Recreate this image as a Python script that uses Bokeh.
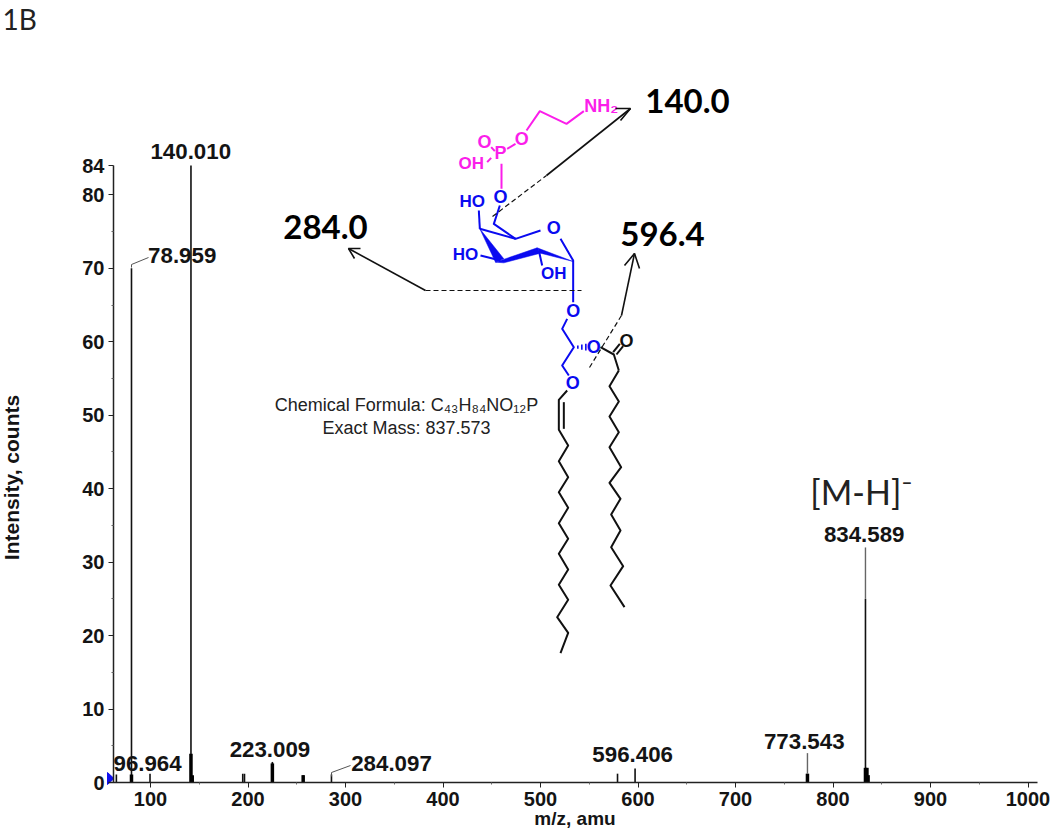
import math
from bokeh.plotting import figure
from bokeh.embed import file_html
from bokeh.resources import INLINE
from bokeh.models import FixedTicker
from bokeh.core.properties import value

# ---- chart data (m/z, intensity) ----
peak_mz = [65, 80.5, 99.5, 141.5, 194.6, 196.4, 225, 256.6, 285.6, 579, 597, 773.8, 833.3]
peak_int = [1.1, 70, 1.2, 84, 1.2, 1.2, 2.8, 1.0, 1.1, 1.2, 1.9, 1.2, 25]
thick_mz = [80.5, 141.5, 142.8, 225, 256.6, 773.8, 833.3, 834.8, 836]
thick_int = [1.1, 3.9, 1.0, 2.6, 1.0, 1.2, 2.0, 2.0, 1.0]
stem_mz = [833.3, 773.8]
stem_low = [25, 1.2]
stem_high = [32, 4.0]
peak_labels = ["140.010", "78.959", "96.964", "223.009", "284.097", "596.406", "773.543", "834.589"]
label_mz = [141.3, 132.5, 97, 222.5, 347.2, 594.5, 770.5, 832]
label_int = [85.9, 71.7, 2.6, 4.5, 2.6, 3.8, 5.6, 33.8]
x_ticks = [100, 200, 300, 400, 500, 600, 700, 800, 900, 1000]
x_minor = [150, 250, 350, 450, 550, 650, 750, 850, 950]
y_ticks = [0, 10, 20, 30, 40, 50, 60, 70, 80, 84]
y_minor = [5, 15, 25, 35, 45, 55, 65, 75]

# ---- axis calibration ----
PX_PER_MZ = 0.975
PX_PER_INT = 7.345
AXIS_L, FRAME_R, BASE = 113, 1037, 782
W, H = 1050, 829


def X(px):
    return 100 + (px - 150) / PX_PER_MZ


def Y(py):
    return (BASE - py) / PX_PER_INT


def z1(pts):
    return [440 + a / 3 for a, b in pts], [80 + b / 3 for a, b in pts]


def z2(pts):
    return [500 + a / 3 for a, b in pts], [340 + b / 3 for a, b in pts]


p = figure(width=W, height=H, output_backend="svg", toolbar_location=None,
           x_range=(X(0), X(W)), y_range=(Y(H), Y(0)),
           min_border_left=0, min_border_right=0, min_border_top=0, min_border_bottom=0,
           outline_line_color=None, background_fill_color="white",
           styles={"position": "absolute", "left": "0px", "top": "0px"})
p.grid.visible = False

for ax in (p.xaxis[0], p.yaxis[0]):
    ax.major_label_text_font = "Liberation Sans"
    ax.major_label_text_font_style = "bold"
    ax.major_label_text_font_size = "20px"
    ax.major_label_text_color = "#141414"
    ax.axis_line_color = "#222222"
    ax.axis_line_width = 1.5
    ax.major_tick_line_color = "#222222"
    ax.minor_tick_line_color = "#666666"
    ax.major_tick_in = 0
    ax.major_tick_out = 5
    ax.minor_tick_in = 0
    ax.minor_tick_out = 2

p.xaxis[0].ticker = FixedTicker(ticks=x_ticks, minor_ticks=x_minor)
p.yaxis[0].ticker = FixedTicker(ticks=y_ticks, minor_ticks=y_minor)
p.xaxis[0].fixed_location = 0
p.yaxis[0].fixed_location = X(AXIS_L)
p.xaxis[0].bounds = (X(108), X(FRAME_R))
p.yaxis[0].bounds = (0, 84)
p.xaxis[0].major_label_standoff = 4
p.yaxis[0].major_label_standoff = 4

# peaks
p.segment(peak_mz, [0] * len(peak_mz), peak_mz, peak_int, line_color="#111111", line_width=1.6)
p.segment(thick_mz, [0] * len(thick_mz), thick_mz, thick_int, line_color="black", line_width=3.5)
p.segment(stem_mz, stem_low, stem_mz, stem_high, line_color="#666666", line_width=1.4)

# connectors from peak to label
conn_x = [[131, 131, 148], [331, 331, 350]]
conn_y = [[267, 264, 257], [776, 772, 765]]
p.multi_line([[X(a) for a in xs] for xs in conn_x], [[Y(b) for b in ys] for ys in conn_y],
             line_color="#555555", line_width=1)

p.text(label_mz, label_int, text=peak_labels, text_font=value("Liberation Sans"),
       text_font_style="bold", text_font_size="22.3px", text_align="center",
       text_baseline="middle", text_color="#141414")

# ---- molecule ----
PINK = "#fb1eea"
BLUE = "#0a0af0"
BLACK = "#111111"

pink_bonds = [
    [(258, 150), (298, 92), (378, 130), (430, 92)],
    [(200, 205), (225, 190)],
    [(183, 250), (183, 325)],
    [(163, 212), (152, 200)],
    [(152, 232), (140, 245)],
]
blue_bonds = [
    [(178, 375), (160, 430), (225, 475), (300, 450)],
    [(360, 475), (398, 540), (398, 665)],
    [(118, 445), (115, 390)],
    [(120, 525), (180, 540)],
    [(295, 510), (305, 555)],
    [(118, 445), (225, 475)],
    [(380, 715), (365, 745), (400, 800), (365, 855), (385, 885)],
]
hashes = [[(412, 795), (412, 805)], [(424, 792), (424, 808)], [(436, 790), (436, 810)]]
wedges = [
    [(118, 445), (165, 545), (190, 535)],
    [(165, 545), (190, 547), (300, 518), (290, 502)],
    [(290, 502), (300, 518), (398, 543)],
]
ester_bonds = [
    [(480, 800), (520, 822), (535, 870)],
    [(518, 815), (538, 790)],
    [(528, 822), (548, 797)],
]
chain1 = [(200, 150), (175, 178), (175, 268), (203, 315), (175, 362), (203, 410), (175, 455), (203, 502),
          (175, 548), (203, 595), (175, 640), (203, 687), (175, 733), (203, 778), (170, 830), (203, 877), (180, 938)]
chain1b = [(190, 185), (190, 265)]
chain2 = [(355, 90), (327, 137), (355, 183), (327, 228), (355, 275), (327, 320), (362, 380), (327, 427),
          (360, 475), (332, 522), (360, 570), (332, 620), (368, 677), (330, 735), (372, 800)]


def draw(segs, conv, color, width):
    xs, ys = [], []
    for s in segs:
        a, b = conv(s)
        xs.append([X(v) for v in a])
        ys.append([Y(v) for v in b])
    p.multi_line(xs, ys, line_color=color, line_width=width, line_join="round")


draw(pink_bonds, z1, PINK, 2)
draw(blue_bonds, z1, BLUE, 2)
draw(hashes, z1, BLUE, 1.6)
draw(ester_bonds, z1, BLACK, 2)
draw([chain1, chain1b, chain2], z2, BLACK, 2)
for w in wedges:
    a, b = z1(w)
    p.patch([X(v) for v in a], [Y(v) for v in b], fill_color=BLUE, line_color=BLUE, line_width=0.5)

atoms = [
    ("O", 132, 183, PINK, 18), ("O", 244, 175, PINK, 18), ("P", 180, 218, PINK, 18),
    ("OH", 92, 250, PINK, 17), ("NH₂", 482, 77, PINK, 18),
    ("O", 180, 350, BLUE, 18), ("HO", 95, 362, BLUE, 17), ("O", 340, 443, BLUE, 18),
    ("HO", 75, 523, BLUE, 17), ("OH", 340, 578, BLUE, 17), ("O", 398, 690, BLUE, 18),
    ("O", 460, 800, BLUE, 18), ("O", 397, 907, BLUE, 18), ("O", 558, 782, BLACK, 18),
]
for t, a, b, c, s in atoms:
    p.text([X(440 + a / 3)], [Y(80 + b / 3)], text=[t], text_font=value("Liberation Sans"),
           text_font_style="bold", text_font_size=f"{s}px", text_align="center", text_baseline="middle",
           text_color=c)

# ---- fragmentation arrows ----
solid_x = [[546, 630], [425, 348], [621, 634], [615, 630, 620], [624, 634, 639], [360, 348, 354]]
solid_y = [[175, 108], [290, 248], [315, 253], [108, 108, 120], [265, 253, 268], [248, 248, 258]]
p.multi_line([[X(a) for a in s] for s in solid_x], [[Y(b) for b in s] for s in solid_y],
             line_color="#111111", line_width=1.6)
dash_x = [[492, 546], [425, 581], [589, 621]]
dash_y = [[216, 175], [290, 290], [367, 315]]
p.multi_line([[X(a) for a in s] for s in dash_x], [[Y(b) for b in s] for s in dash_y],
             line_color="#111111", line_width=1.2, line_dash="5 3")

big = [("140.0", 687, 100), ("284.0", 325, 226), ("596.4", 662, 233)]
for t, a, b in big:
    p.text([X(a)], [Y(b)], text=[t], text_font=value("Lato"), text_font_style="bold",
           text_font_size="33px", text_align="center", text_baseline="middle", text_color="black")

p.text([X(406)], [Y(404)], text=["Chemical Formula: C₄₃H₈₄NO₁₂P"], text_font=value("Liberation Sans"),
       text_font_size="18px", text_align="center", text_baseline="middle", text_color="#222222")
p.text([X(406)], [Y(427)], text=["Exact Mass: 837.573"], text_font=value("Liberation Sans"),
       text_font_size="18px", text_align="center", text_baseline="middle", text_color="#222222")
p.text([X(861)], [Y(491)], text=["[M-H]⁻"], text_font=value("Lato"), text_font_size="34px",
       text_align="center", text_baseline="middle", text_color="#222222")

# marker at axis start, axis titles and panel letter
p.patch([X(107), X(113.5), X(107)], [Y(772), Y(778), Y(784)], fill_color="#1010ee", line_color="#1010ee")
p.text([X(2)], [Y(18)], text=["1B"], text_font=value("Lato"), text_font_size="28px",
       text_color="#222222", text_baseline="middle")
p.text([X(574.5)], [Y(818)], text=["m/z, amu"], text_font=value("Liberation Sans"), text_font_style="bold",
       text_font_size="19px", text_color="#141414", text_align="center", text_baseline="middle")
p.text([X(11)], [Y(477)], text=["Intensity, counts"], text_font=value("Liberation Sans"), text_font_style="bold",
       text_font_size="21px", text_color="#141414", text_align="center", text_baseline="middle", angle=math.pi / 2)

open("out.html", "w").write(file_html(p, INLINE))
